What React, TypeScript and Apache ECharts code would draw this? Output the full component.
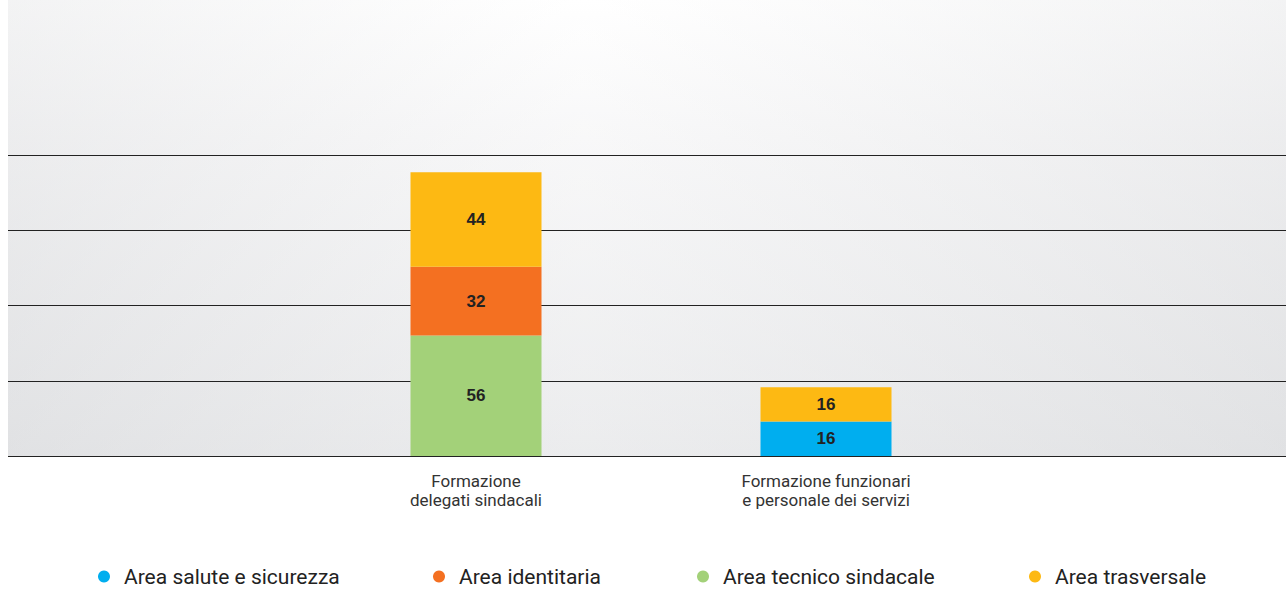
import React, { useEffect, useRef } from "react";
import * as echarts from "echarts";

const categories = ["Formazione\ndelegati sindacali", "Formazione funzionari\ne personale dei servizi"];
const seriesNames = ["Area salute e sicurezza", "Area tecnico sindacale", "Area identitaria", "Area trasversale"];
const saluteValues = [null, 16];
const tecnicoValues = [56, null];
const identitariaValues = [32, null];
const trasversaleValues = [44, 16];
const seriesColors = ["#00AEEF", "#A3D179", "#F47021", "#FDB913"];
const legendOrder = ["Area salute e sicurezza", "Area identitaria", "Area tecnico sindacale", "Area trasversale"];
const legendLefts = [98, 433, 697, 1029];

export default function App() {
  const ref = useRef<HTMLDivElement>(null);
  useEffect(() => {
    const chart = echarts.init(ref.current!, undefined, { renderer: "svg" });
    const values = [saluteValues, tecnicoValues, identitariaValues, trasversaleValues];
    const option: any = {
      animation: false,
      graphic: [
        {
          type: "rect",
          z: -100,
          shape: { x: 8, y: 0, width: 1278, height: 456 },
          style: {
            fill: new echarts.graphic.LinearGradient(0, 0, 0, 1, [
              { offset: 0, color: "#ffffff" },
              { offset: 0.3, color: "#f5f5f6" },
              { offset: 1, color: "#e3e4e6" },
            ]),
          },
        },
        {
          type: "rect",
          z: -99,
          shape: { x: 8, y: 0, width: 1278, height: 456 },
          style: {
            fill: new echarts.graphic.LinearGradient(0, 0, 1, 0, [
              { offset: 0, color: "rgba(220,221,223,0.35)" },
              { offset: 0.45, color: "rgba(255,255,255,0.3)" },
              { offset: 1, color: "rgba(220,221,223,0.35)" },
            ]),
          },
        },
      ],
      grid: [
        { left: 8, right: 0, top: 155, bottom: 133 },
        { left: 301, width: 700, top: 155, bottom: 133 },
      ],
      xAxis: [
        { type: "category", gridIndex: 0, data: ["a"], show: false },
        {
          type: "category",
          gridIndex: 1,
          data: categories,
          axisLine: { show: false },
          axisTick: { show: false },
          axisLabel: {
            margin: 15,
            fontFamily: "Roboto",
            fontSize: 17,
            lineHeight: 19,
            color: "#333",
          },
        },
      ],
      yAxis: [
        {
          type: "value",
          gridIndex: 0,
          min: 0,
          max: 140,
          interval: 35,
          axisLabel: { show: false },
          axisLine: { show: false },
          axisTick: { show: false },
          splitLine: { lineStyle: { color: "#222", width: 1 } },
        },
        {
          type: "value",
          gridIndex: 1,
          min: 0,
          max: 140,
          interval: 35,
          show: false,
          splitLine: { show: false },
        },
      ],
      legend: legendOrder.map((name, i) => ({
        data: [name],
        left: legendLefts[i],
        top: 566,
        padding: 0,
        itemWidth: 30,
        itemHeight: 12,
        icon: "circle",
        textStyle: { fontFamily: "Roboto", fontSize: 21, color: "#222" },
      })),
      series: seriesNames.map((name, i) => ({
        name,
        type: "bar",
        stack: "total",
        xAxisIndex: 1,
        yAxisIndex: 1,
        barWidth: 131,
        data: values[i],
        itemStyle: { color: seriesColors[i] },
        label: {
          show: true,
          position: "inside",
          fontFamily: "Liberation Sans",
          fontWeight: "bold",
          fontSize: 17,
          color: "#222",
        },
      })),
    };
    chart.setOption(option);
    return () => chart.dispose();
  }, []);
  return <div ref={ref} style={{ position: "absolute", left: 0, top: 0, width: 1286, height: 589 }} />;
}
